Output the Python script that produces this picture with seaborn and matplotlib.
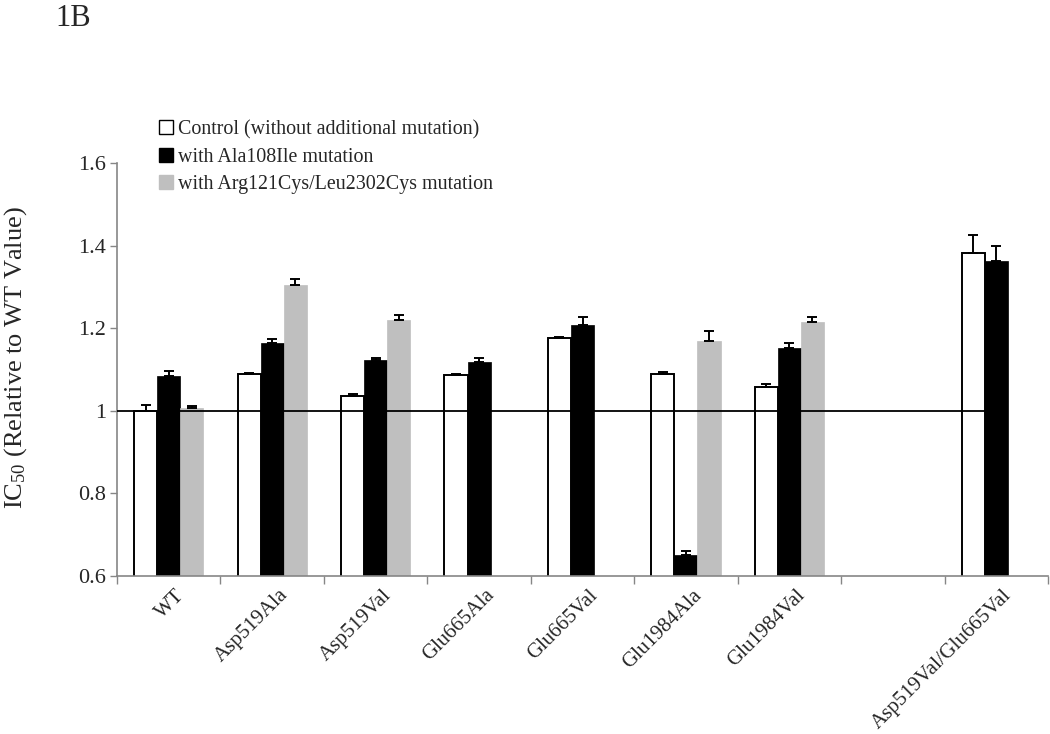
import numpy as np
import pandas as pd
import matplotlib
matplotlib.use("Agg")
import matplotlib.pyplot as plt
import seaborn as sns
from matplotlib.patches import Patch
from matplotlib.container import BarContainer
from matplotlib.ticker import FuncFormatter, FixedLocator
from matplotlib.transforms import ScaledTranslation

categories = ["WT", "Asp519Ala", "Asp519Val", "Glu665Ala", "Glu665Val",
              "Glu1984Ala", "Glu1984Val", " ", "Asp519Val/Glu665Val"]
series = ["Control (without additional mutation)",
          "with Ala108Ile mutation",
          "with Arg121Cys/Leu2302Cys mutation"]
nan = np.nan
control = [1.000, 1.088, 1.036, 1.087, 1.176, 1.089, 1.058, nan, 1.383]
control_err = [0.014, 0.003, 0.004, 0.003, 0.003, 0.004, 0.007, nan, 0.042]
ala108ile = [1.085, 1.163, 1.124, 1.117, 1.207, 0.651, 1.152, nan, 1.362]
ala108ile_err = [0.011, 0.011, 0.004, 0.010, 0.020, 0.010, 0.011, nan, 0.036]
arg_leu = [1.007, 1.304, 1.221, nan, nan, 1.168, 1.215, nan, nan]
arg_leu_err = [0.005, 0.016, 0.011, nan, nan, 0.025, 0.012, nan, nan]
yticks = [0.6, 0.8, 1.0, 1.2, 1.4, 1.6]

colors = ["#ffffff", "#000000", "#bfbfbf"]
edges = ["#000000", "#000000", "#bfbfbf"]

vals = [control, ala108ile, arg_leu]
errs = [control_err, ala108ile_err, arg_leu_err]
rows = []
for s, v, e in zip(series, vals, errs):
    for c, vi, ei in zip(categories, v, e):
        if not np.isnan(vi):
            rows.append({"cat": c, "val": vi, "err": ei, "series": s})
df = pd.DataFrame(rows)

sns.set_style("white")
plt.rcParams["font.family"] = ["Liberation Serif", "DejaVu Serif"]
plt.rcParams["mathtext.fontset"] = "custom"
plt.rcParams["mathtext.rm"] = "Liberation Serif"
plt.rcParams["mathtext.it"] = "Liberation Serif:italic"
plt.rcParams["mathtext.default"] = "regular"

fig = plt.figure(figsize=(10.5, 7.34), dpi=100)
ax = fig.add_axes([117 / 1050, 1 - 576 / 734, 931 / 1050, 413 / 734])

sns.barplot(data=df, x="cat", y="val", hue="series", order=categories,
            hue_order=series, palette=colors, width=0.67, errorbar=None,
            saturation=1, legend=False, ax=ax)

bar_conts = [c for c in ax.containers if isinstance(c, BarContainer)]
right_edge = -0.5
for i, cont in enumerate(bar_conts):
    xs, ys, es = [], [], []
    for bar in cont:
        if bar is None:
            continue
        bar.set_edgecolor(edges[i])
        bar.set_linewidth(1.4 if i == 0 else 0.5)
        bar.set_zorder(2)
        cx = bar.get_x() + bar.get_width() / 2
        ci = int(round(cx))
        if i == 1:
            right_edge = max(right_edge, bar.get_x() + bar.get_width())
        xs.append(cx)
        ys.append(bar.get_height())
        es.append(errs[i][ci])
    ax.errorbar(xs, ys, yerr=[np.zeros(len(es)), es], fmt="none",
                ecolor="black", elinewidth=1.4, capsize=3.5, capthick=1.4,
                zorder=4)

ax.hlines(1.0, -0.5, right_edge, color="black", lw=1.3, zorder=3)

ax.set_xlim(-0.5, len(categories) - 0.5)
ax.set_ylim(0.6, 1.6)
ax.set_yticks(yticks)
ax.yaxis.set_major_formatter(FuncFormatter(lambda v, p: f"{v:g}"))
ax.tick_params(axis="y", labelsize=16, length=5, width=1, color="#868686",
               direction="out", left=True, pad=3)
ax.set_xticks(range(len(categories)))
ax.set_xticklabels(categories, rotation=45, ha="right",
                   rotation_mode="anchor", fontsize=15)
ax.tick_params(axis="x", which="major", length=0, pad=7)
shift = ScaledTranslation(0.06, 0, fig.dpi_scale_trans)
for lab in ax.get_xticklabels():
    lab.set_transform(lab.get_transform() + shift)
ax.xaxis.set_minor_locator(FixedLocator(np.arange(-0.5, len(categories), 1.0)))
ax.tick_params(axis="x", which="minor", length=6, width=1, color="#868686",
               direction="out", bottom=True)

for side in ["top", "right"]:
    ax.spines[side].set_visible(False)
for side in ["left", "bottom"]:
    ax.spines[side].set_color("#868686")
    ax.spines[side].set_linewidth(1.2)

ax.set_xlabel("")
ax.set_ylabel("IC$_{50}$ (Relative to WT Value)", fontsize=19)
ax.yaxis.set_label_coords(-0.095, 0.53)

handles = [Patch(facecolor=colors[i], edgecolor=edges[i], linewidth=1.0)
           for i in range(3)]
fig.legend(handles, series, loc="upper left",
           bbox_to_anchor=(159 / 1050, 1 - 120 / 734), frameon=False,
           fontsize=14.4, handlelength=0.7, handleheight=0.7,
           handletextpad=0.25, labelspacing=0.42, borderpad=0,
           borderaxespad=0)

fig.text(55 / 1050, 1 - 4 / 734, "1B", fontsize=22, va="top", ha="left")

fig.savefig("out.png", dpi=100)
